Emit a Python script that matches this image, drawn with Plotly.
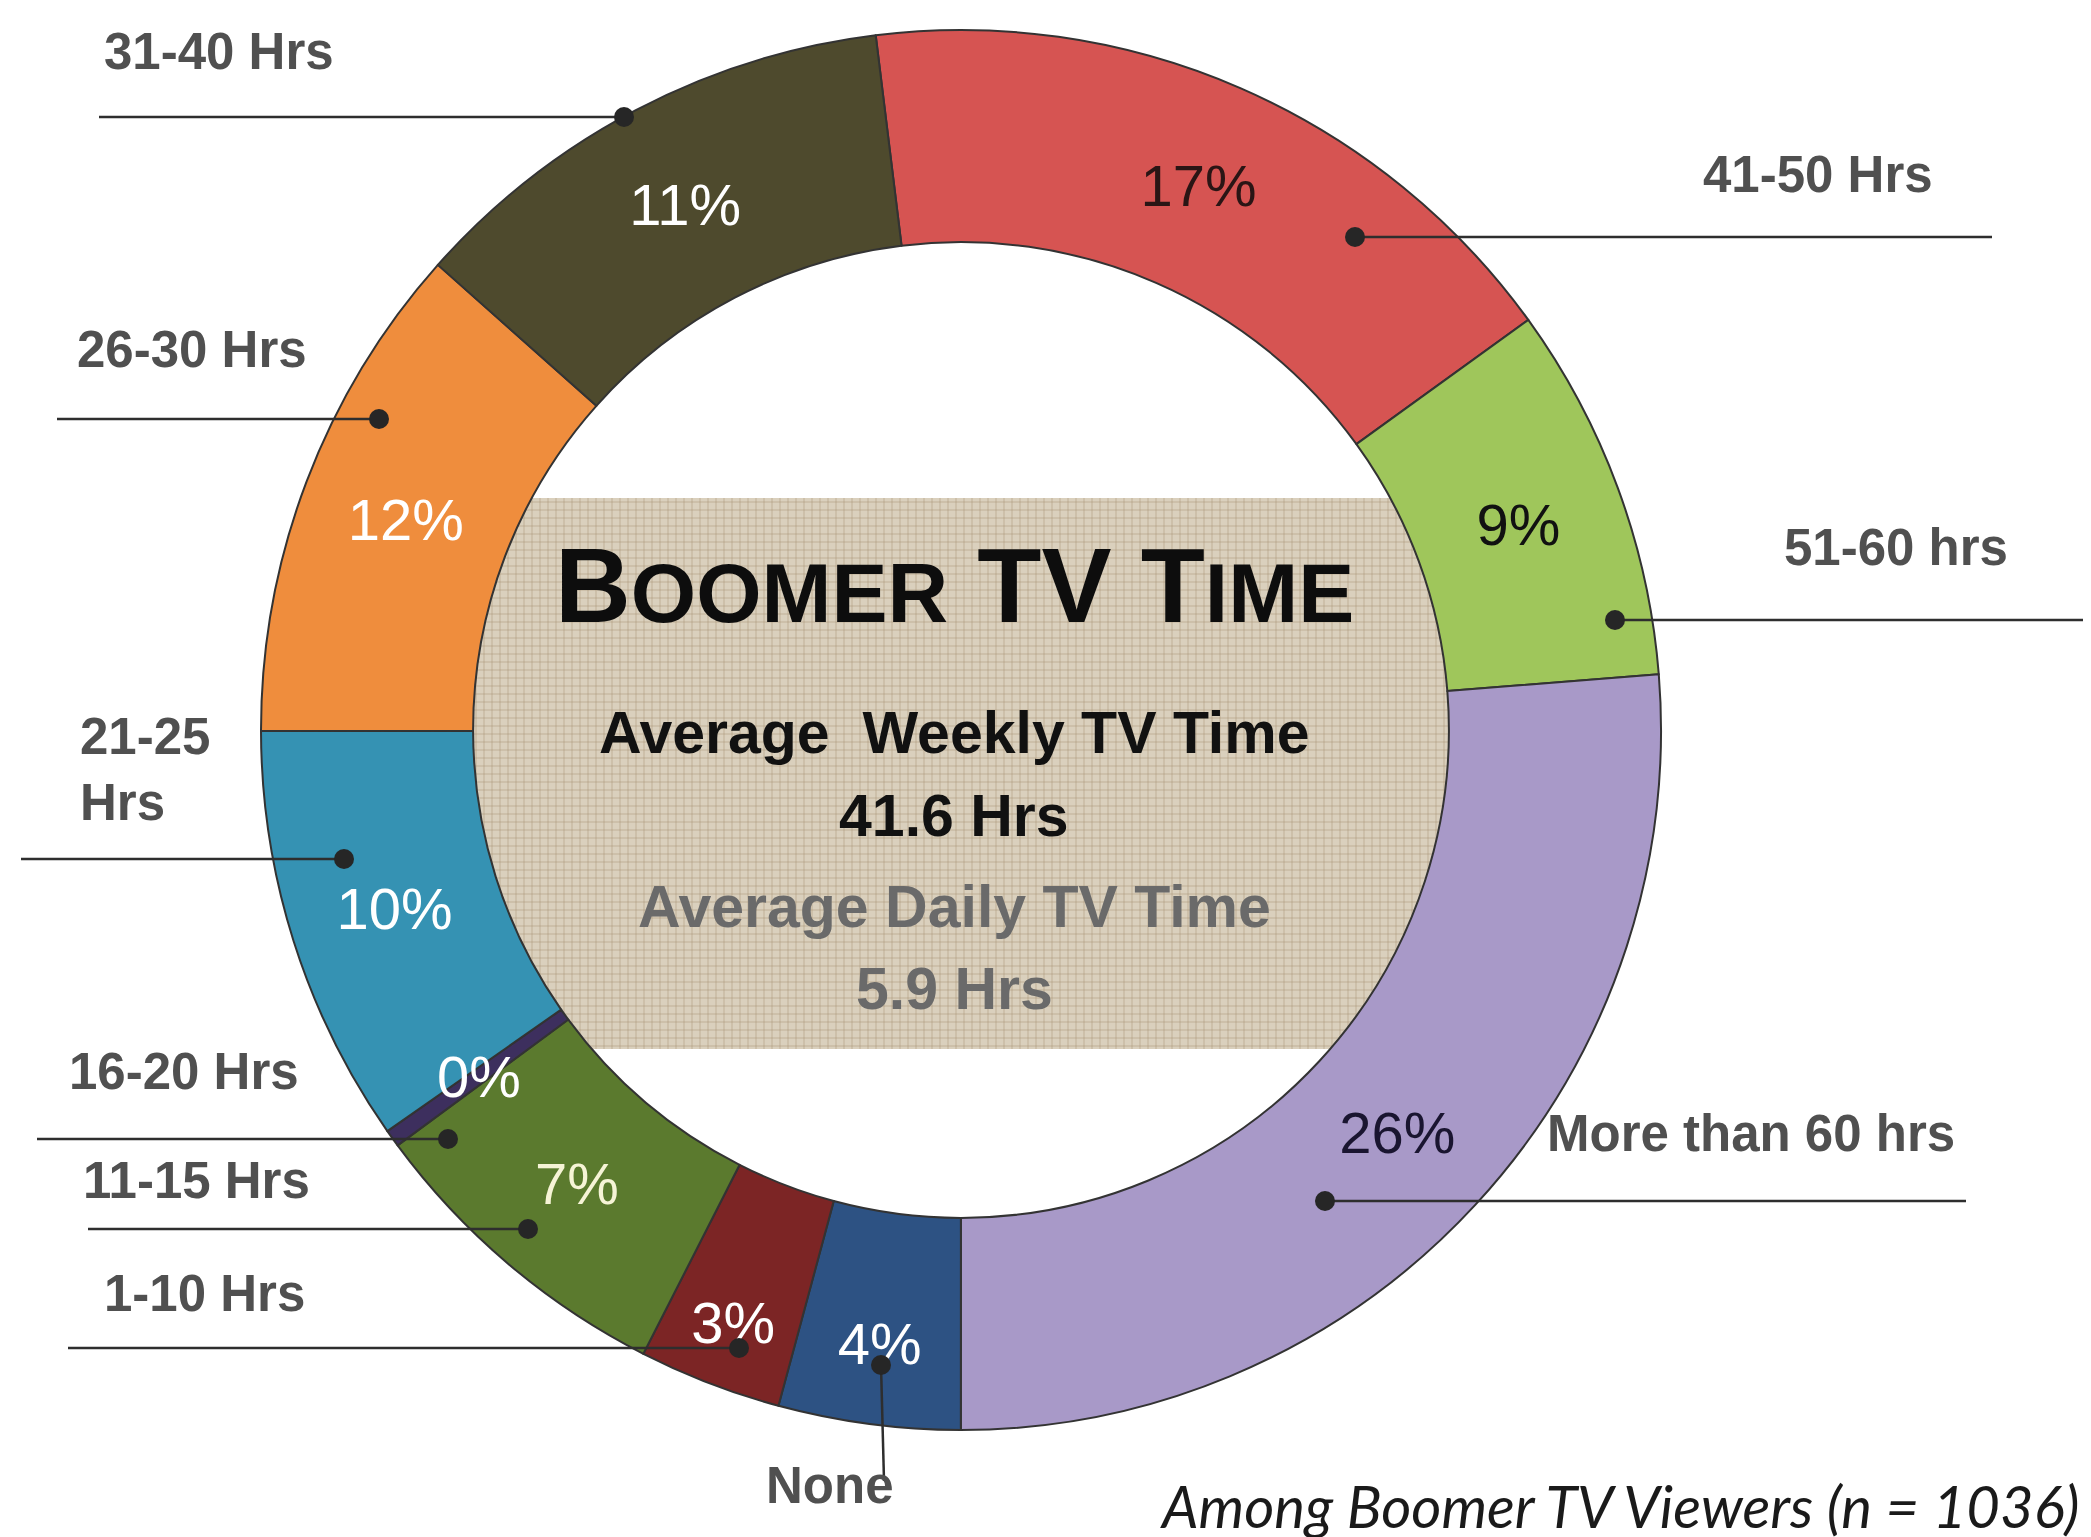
import math
import plotly.graph_objects as go

W, H = 2091, 1537

# slices, clockwise from the top
categories = ["41-50 Hrs", "51-60 hrs", "More than 60 hrs", "None", "1-10 Hrs",
              "11-15 Hrs", "16-20 Hrs", "21-25 Hrs", "26-30 Hrs", "31-40 Hrs"]
shares = [17.0, 8.7, 26.3, 4.2, 3.3, 7.4, 0.4, 9.7, 11.6, 11.5]
shown_pct = [17, 9, 26, 4, 3, 7, 0, 10, 12, 11]
label_text = ["41-50 Hrs", "51-60 hrs", "More than 60 hrs", "None", "1-10 Hrs",
              "11-15 Hrs", "16-20 Hrs", "21-25<br>Hrs", "26-30 Hrs", "31-40 Hrs"]

avg_weekly = 41.6
avg_daily = 5.9
n_viewers = 1036

colors = ["#d65452", "#9fc65b", "#a899c8", "#2d5283", "#7c2525",
          "#5b7a2e", "#3d2f5e", "#3592b3", "#ef8d3d", "#4e4a2d"]
pct_colors = ["#2a1515", "#111111", "#1a1530", "#ffffff", "#ffffff",
              "#f6f4d6", "#ffffff", "#ffffff", "#ffffff", "#ffffff"]

SANS = "Liberation Sans, Arial, sans-serif"

# callout geometry in pixels: dot x, dot y, line end, text x, text y
callouts = {
    "41-50 Hrs": (1347, 229, 1984, 1693, 167),
    "51-60 hrs": (1607, 612, 2091, 1774, 539),
    "More than 60 hrs": (1317, 1193, 1958, 1537, 1125),
    "None": (873, 1357, 1473, 822, 1477),
    "1-10 Hrs": (731, 1340, 60, 94, 1285),
    "11-15 Hrs": (520, 1221, 80, 73, 1172),
    "16-20 Hrs": (440, 1131, 29, 59, 1063),
    "21-25 Hrs": (336, 851, 13, 70, 761),
    "26-30 Hrs": (371, 411, 49, 67, 341),
    "31-40 Hrs": (616, 109, 91, 94, 43),
}


def px(x, y):
    return x / W, 1 - y / H


cx, cy, R = 953, 722, 700
hole = 0.697
rotation = -7

# slices too thin to hold their label get it as an annotation instead
pie_text = [f"{p}%" if s >= 1 else "" for p, s in zip(shown_pct, shares)]

fig = go.Figure()
fig.add_trace(go.Pie(
    labels=categories,
    values=shares,
    text=pie_text,
    textinfo="text",
    textposition="inside",
    insidetextorientation="horizontal",
    textfont=dict(family=SANS, size=58, color=pct_colors),
    marker=dict(colors=colors, line=dict(color="#333333", width=2)),
    hole=hole,
    sort=False,
    direction="clockwise",
    rotation=rotation,
    domain=dict(x=[(cx - R) / W, (cx + R) / W], y=[1 - (cy + R) / H, 1 - (cy - R) / H]),
    hoverinfo="label+text",
))

shapes = []
# burlap panel behind the ring
bx0, by0, bx1, by1 = 440, 490, 1480, 1041
x0, y0 = px(bx0, by0)
x1, y1 = px(bx1, by1)
shapes.append(dict(type="rect", xref="paper", yref="paper", x0=x0, y0=y1, x1=x1, y1=y0,
                   fillcolor="#dad0bd", line=dict(width=0), layer="below"))
weave = dict(color="rgba(160,140,105,0.30)", width=1.5)
for gx in range(bx0 + 4, bx1, 8):
    shapes.append(dict(type="line", xref="paper", yref="paper", x0=gx / W, x1=gx / W,
                       y0=y1, y1=y0, line=weave, layer="below"))
for gy in range(by0 + 4, by1, 8):
    shapes.append(dict(type="line", xref="paper", yref="paper", x0=x0, x1=x1,
                       y0=1 - gy / H, y1=1 - gy / H, line=weave, layer="below"))

annotations = []
for cat, lab in zip(categories, label_text):
    dx, dy, end, tx, ty = callouts[cat]
    ax, ay = px(dx, dy)
    if cat == "None":
        ex, ey = px(dx + 3, end)
    else:
        ex, ey = px(end, dy)
    shapes.append(dict(type="line", xref="paper", yref="paper", x0=ax, y0=ay, x1=ex, y1=ey,
                       line=dict(color="#2e2e2e", width=2.5)))
    r = 10
    shapes.append(dict(type="circle", xref="paper", yref="paper",
                       x0=(dx - r) / W, x1=(dx + r) / W, y0=1 - (dy + r) / H, y1=1 - (dy - r) / H,
                       fillcolor="#262626", line=dict(width=0)))
    lx, ly = px(tx, ty)
    annotations.append(dict(x=lx, y=ly, xref="paper", yref="paper", text=lab, showarrow=False,
                            xanchor="center" if cat == "None" else "left", yanchor="middle",
                            align="left",
                            font=dict(family=SANS, size=51, color="#505050", weight="bold")))

# labels of the thin slices, at the middle of their arc in the ring
total = sum(shares)
cum = 0.0
for s, p, col in zip(shares, shown_pct, pct_colors):
    if s < 1:
        ang = math.radians(rotation + (cum + s / 2) / total * 360)
        rr = R * (1 + hole) / 2
        lx, ly = px(cx + rr * math.sin(ang), cy - rr * math.cos(ang))
        annotations.append(dict(x=lx, y=ly, xref="paper", yref="paper", text=f"{p}%",
                                showarrow=False, xanchor="center", yanchor="middle",
                                font=dict(family=SANS, size=58, color=col)))
    cum += s

# centre text
mx = 946
title = ("<span style='font-size:105px'>B</span><span style='font-size:84px'>OOMER</span> "
         "<span style='font-size:105px'>TV T</span><span style='font-size:84px'>IME</span>")
centre = [
    (title, 578, "#0d0d0d", 105),
    ("Average&nbsp; Weekly TV Time", 725, "#111111", 59),
    (f"{avg_weekly} Hrs", 808, "#111111", 59),
    ("Average Daily TV Time", 899, "#6a6a6a", 59),
    (f"{avg_daily} Hrs", 981, "#6a6a6a", 59),
]
for txt, ty, col, size in centre:
    lx, ly = px(mx, ty)
    annotations.append(dict(x=lx, y=ly, xref="paper", yref="paper", text=txt, showarrow=False,
                            xanchor="center", yanchor="middle",
                            font=dict(family=SANS, size=size, color=col, weight="bold")))

lx, ly = px(2074, 1534)
annotations.append(dict(x=lx, y=ly, xref="paper", yref="paper",
                        text=f"<i>Among Boomer TV Viewers (n = {n_viewers})</i>",
                        showarrow=False, xanchor="right", yanchor="bottom",
                        font=dict(family="Lato, Open Sans, sans-serif", size=58, color="#1a1a1a")))

fig.update_layout(
    width=W, height=H,
    margin=dict(l=0, r=0, t=0, b=0),
    paper_bgcolor="white",
    plot_bgcolor="white",
    showlegend=False,
    uniformtext=dict(minsize=58, mode="show"),
    shapes=shapes,
    annotations=annotations,
)

fig.write_html("out.html")
